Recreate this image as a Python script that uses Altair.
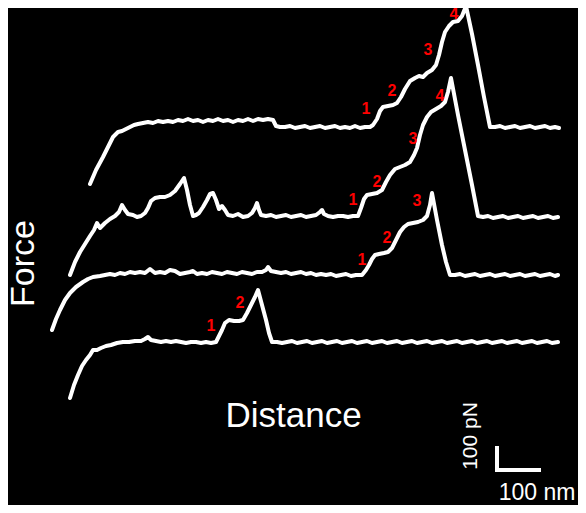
import altair as alt
import pandas as pd

# Readings: (distance, force) in picture units (1 unit = 1 px)
# distance increases to the right, "height" values are screen rows (converted below)
trace_A = [(90,184),(96,170),(103,157),(109,145),(113,137),(118,132),(122,131),(126,129),(130,127),(134,125),
           (138,124),(143,123),(148,122),(153,123),(158,121),(163,122),(168,121),(173,122),(178,120),(183,121),
           (188,119),(193,121),(198,120),(203,122),(208,120),(213,121),(218,119),(223,121),(228,120),(233,122),
           (238,120),(243,121),(248,119),(253,121),(258,119),(263,120),(268,119),(273,120),(276,126),(280,127),
           (285,127),(290,126),(295,128),(300,127),(305,126),(310,128),(315,127),(320,126),(325,128),(330,127),
           (335,126),(340,128),(345,127),(350,128),(355,126),(360,128),(365,127),(370,127),(373,125),(377,119),
           (380,111),(383,107),(388,106),(393,105),(397,103),(401,97),(405,89),(410,81),(415,78),(419,76),
           (423,77),(427,73),(432,70),(436,65),(439,55),(442,42),(445,32),(449,26),(453,22),(458,21),
           (462,16),(466,6),(472,34),(478,65),(484,97),(490,127),(495,127),(500,126),(505,128),(510,127),
           (515,126),(520,128),(525,127),(530,126),(535,128),(540,127),(545,126),(550,128),(555,127),(559,128)]

trace_B = [(70,275),(75,262),(80,252),(85,244),(90,236),(94,230),(97,223),(100,228),(105,223),(110,219),
           (115,216),(119,212),(122,205),(125,210),(128,214),(133,215),(137,217),(141,216),(145,213),(148,208),
           (151,201),(155,198),(160,197),(165,197),(170,195),(175,191),(180,184),(184,178),(187,190),(190,205),
           (193,216),(196,215),(199,213),(203,207),(207,200),(210,194),(213,193),(216,200),(219,209),(222,206),
           (225,210),(228,215),(233,216),(238,214),(243,217),(248,216),(252,213),(255,208),(257,203),(259,210),
           (261,215),(266,216),(271,215),(276,217),(281,216),(286,215),(291,217),(296,216),(301,215),(306,217),
           (311,216),(316,215),(320,212),(322,210),(324,214),(328,216),(333,217),(338,216),(343,216),(348,217),
           (353,216),(358,216),(361,208),(364,199),(367,195),(372,194),(377,193),(382,190),(386,182),(390,175),
           (395,169),(400,167),(405,165),(410,162),(414,155),(417,148),(420,135),(423,125),(427,117),(431,112),
           (436,109),(441,106),(445,102),(448,92),(451,78),(458,115),(465,150),(472,185),(478,216),(483,217),
           (488,216),(493,218),(498,217),(503,216),(508,218),(513,217),(518,216),(523,218),(528,217),(533,216),
           (538,218),(543,217),(548,216),(553,218),(558,217)]

trace_C = [(52,330),(56,319),(60,310),(65,300),(70,293),(76,287),(83,282),(88,279),(93,277),(100,276),
           (105,275),(110,274),(115,275),(120,273),(125,274),(130,272),(135,273),(140,272),(145,273),(150,269),
           (155,273),(160,272),(165,273),(170,270),(175,271),(180,274),(185,273),(190,272),(193,271),(197,274),
           (202,273),(207,274),(212,272),(217,273),(222,274),(227,272),(232,273),(237,274),(242,272),(247,273),
           (252,274),(257,272),(262,272),(266,270),(268,267),(271,271),(276,272),(281,273),(286,272),(291,274),
           (296,273),(301,272),(306,274),(311,273),(316,275),(321,274),(326,275),(331,274),(336,276),(341,275),
           (346,274),(351,276),(356,275),(362,275),(366,270),(369,265),(372,259),(375,255),(379,254),(384,253),
           (388,252),(392,248),(396,240),(400,232),(404,227),(408,224),(413,223),(418,222),(423,220),(427,216),
           (430,205),(432,193),(437,220),(442,245),(446,262),(450,275),(455,275),(460,274),(465,276),(470,275),
           (475,274),(480,276),(485,275),(490,274),(495,276),(500,275),(505,274),(510,276),(515,275),(520,274),
           (525,276),(530,275),(535,274),(540,276),(545,275),(550,274),(555,276),(558,275)]

trace_D = [(70,398),(74,385),(78,375),(82,366),(86,360),(90,355),(93,350),(97,350),(101,348),(106,346),
           (111,345),(117,343),(123,342),(129,342),(135,341),(141,341),(145,339),(148,337),(151,340),(156,341),
           (161,342),(166,341),(171,342),(176,341),(181,342),(186,343),(191,342),(196,342),(201,343),(206,342),
           (211,343),(216,342),(219,336),(222,330),(225,323),(229,320),(234,321),(239,321),(243,320),(247,313),
           (251,305),(255,297),(258,290),(262,305),(266,320),(269,333),(272,342),(277,342),(282,343),(287,342),
           (292,341),(297,343),(302,342),(307,341),(312,343),(317,342),(322,341),(327,343),(332,342),(337,341),
           (342,343),(347,342),(352,341),(357,343),(362,342),(367,341),(372,343),(377,342),(382,341),(387,343),
           (392,342),(397,341),(402,343),(407,342),(412,341),(417,343),(422,342),(427,341),(432,343),(437,342),
           (442,341),(447,343),(452,342),(457,341),(462,343),(467,342),(472,341),(477,343),(482,342),(487,341),
           (492,343),(497,342),(502,341),(507,343),(512,342),(517,341),(522,343),(527,342),(532,341),(537,343),
           (542,342),(547,341),(552,343),(558,342)]

# unfolding-peak labels
label_text = ["1","2","3","4", "1","2","3","4", "1","2","3", "1","2"]
label_x    = [366,392,428,454, 353,377,413,440, 362,387,417, 211,240]
label_y    = [109,91,50,14,   200,182,139,96,  260,238,201, 326,303]

W, H = 570, 497
OX, OY = 8, 8


def to_x(px):
    return px - OX


def to_y(py):
    return (OY + H) - py


rows = []
for name, tr in [("A", trace_A), ("B", trace_B), ("C", trace_C), ("D", trace_D)]:
    for i, (px, py) in enumerate(tr):
        rows.append({"trace": name, "i": i, "x": to_x(px), "y": to_y(py)})
lines_df = pd.DataFrame(rows)

labels_df = pd.DataFrame({"t": label_text,
                          "x": [to_x(v) for v in label_x],
                          "y": [to_y(v) for v in label_y]})

xs = alt.Scale(domain=[0, W], nice=False, zero=False)
ys = alt.Scale(domain=[0, H], nice=False, zero=False)

lines = alt.Chart(lines_df).mark_line(
    color="white", strokeWidth=4, strokeJoin="round", strokeCap="round", clip=False
).encode(
    x=alt.X("x:Q", scale=xs, axis=None),
    y=alt.Y("y:Q", scale=ys, axis=None),
    detail="trace:N",
    order="i:Q",
)

labels = alt.Chart(labels_df).mark_text(
    color="#ff0000", fontSize=16, fontWeight="bold", font="Liberation Sans",
    align="center", baseline="middle"
).encode(x=alt.X("x:Q", scale=xs), y=alt.Y("y:Q", scale=ys), text="t:N")

# scale bar (100 nm horizontal, 100 pN vertical)
bar_df = pd.DataFrame({"x": [to_x(497), to_x(497)], "x2": [to_x(497), to_x(539)],
                       "y": [to_y(448), to_y(470)], "y2": [to_y(470), to_y(470)]})
bar = alt.Chart(bar_df).mark_rule(color="white", strokeWidth=4, strokeCap="square").encode(
    x=alt.X("x:Q", scale=xs), x2="x2:Q", y=alt.Y("y:Q", scale=ys), y2="y2:Q")

def txt(text, px, py, size, angle=0, align="center"):
    df = pd.DataFrame({"t": [text], "x": [to_x(px)], "y": [to_y(py)]})
    return alt.Chart(df).mark_text(
        color="white", fontSize=size, font="Liberation Sans", angle=angle,
        align=align, baseline="alphabetic"
    ).encode(x=alt.X("x:Q", scale=xs), y=alt.Y("y:Q", scale=ys), text="t:N")

texts = (txt("Force", 34, 263.5, 34, angle=270)
         + txt("Distance", 293.5, 427, 35)
         + txt("100 pN", 477, 436, 21, angle=270)
         + txt("100 nm", 537, 500, 23))

chart = alt.layer(lines, labels, bar, texts).properties(
    width=W, height=H, background="black", padding=0,
    autosize=alt.AutoSizeParams(type="none"),
).configure_view(stroke=None)

chart.save("out.html", embed_options={"renderer": "svg", "actions": False})
